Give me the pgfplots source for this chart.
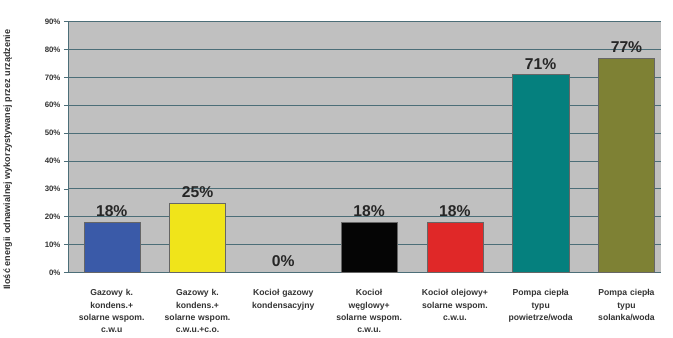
\documentclass[border=0pt]{standalone}
\usepackage{pgfplots}
\pgfplotsset{compat=1.18}
\usepackage{fontspec}
\setmainfont{Liberation Sans}
\definecolor{bg}{HTML}{C0C0C0}
\definecolor{gridc}{HTML}{4C6E78}
\definecolor{cblue}{HTML}{3A5AA8}
\definecolor{cyellow}{HTML}{F0E41A}
\definecolor{cblack}{HTML}{050505}
\definecolor{cred}{HTML}{E02828}
\definecolor{cteal}{HTML}{05807E}
\definecolor{colive}{HTML}{7E8134}
\begin{document}
\begin{tikzpicture}[x=1bp,y=1bp]
\path (0,0) rectangle (673,343);
\begin{axis}[
  at={(70bp,66bp)}, anchor=south west,
  scale only axis, width=602bp, height=255bp,
  xmin=-0.5, xmax=6.4, ymin=0, ymax=90,
  axis background/.style={fill=bg},
  axis x line*=bottom, axis y line*=left,
  axis line style={gridc, line width=0.8pt},
  ytick={0,10,...,90},
  yticklabel={\pgfmathprintnumber{\tick}\%},
  /pgf/number format/assume math mode=true,
  yticklabel style={font=\fontsize{8}{9}\selectfont\bfseries, text=black!80},
  ymajorgrids, grid style={gridc, line width=0.8pt},
  tick align=outside, major tick length=5bp,
  tick style={gridc, line width=0.6pt},
  xtick={0,...,6},
  xticklabels={
    {Gazowy k.\\kondens.+\\solarne wspom.\\c.w.u},
    {Gazowy k.\\kondens.+\\solarne wspom.\\c.w.u.+c.o.},
    {Kocioł gazowy\\kondensacyjny},
    {Kocioł\\węglowy+\\solarne wspom.\\c.w.u.},
    {Kocioł olejowy+\\solarne wspom.\\c.w.u.},
    {Pompa ciepła\\typu\\powietrze/woda},
    {Pompa ciepła\\typu\\solanka/woda}},
  x tick label style={font=\fontsize{8.8}{12.6}\selectfont\bfseries, align=center, text width=88bp, text=black!80, anchor=north, yshift=-9bp},
  x tick style={draw=none},
  minor xtick={0.5,1.5,2.5,3.5,4.5,5.5},
  minor tick length=3bp,
  minor x tick style={gridc},
  ylabel={Ilość energii odnawialnej wykorzystywanej przez urządzenie},
  every axis y label/.style={at={(axis description cs:-0.103,0.45)}, rotate=90, anchor=center, font=\fontsize{9.3}{10}\selectfont\bfseries, text=black!80},
  clip=false,
]
\addplot[ybar, bar width=57bp, fill=cblue, draw=black!60] coordinates {(0,18)};
\addplot[ybar, bar width=57bp, fill=cyellow, draw=black!60] coordinates {(1,25)};
\addplot[ybar, bar width=57bp, fill=cblack, draw=black!60] coordinates {(3,18)};
\addplot[ybar, bar width=57bp, fill=cred, draw=black!60] coordinates {(4,18)};
\addplot[ybar, bar width=57bp, fill=cteal, draw=black!60] coordinates {(5,71)};
\addplot[ybar, bar width=57bp, fill=colive, draw=black!60] coordinates {(6,77)};
\addplot[only marks, mark=none,
  nodes near coords={\pgfmathprintnumber{\pgfplotspointmeta}\%},
  point meta=y,
  every node near coord/.style={font=\fontsize{16}{17}\selectfont\bfseries, text=black!85, anchor=south, yshift=2bp}]
  coordinates {(0,18) (1,25) (2,0) (3,18) (4,18) (5,71) (6,77)};
\end{axis}
\end{tikzpicture}
\end{document}
